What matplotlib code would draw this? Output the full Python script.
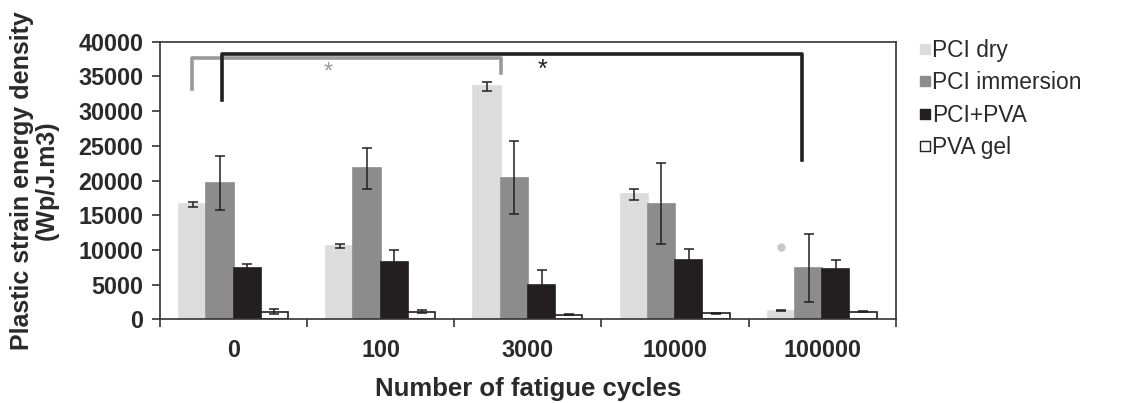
import numpy as np
import matplotlib.pyplot as plt
from matplotlib.lines import Line2D

plt.rcParams['font.family'] = ['Liberation Sans', 'DejaVu Sans']

cycles = ['0', '100', '3000', '10000', '100000']
series = ['PCI dry', 'PCI immersion', 'PCI+PVA', 'PVA gel']
pci_dry = [16600, 10560, 33600, 18050, 1250]
pci_dry_err = [350, 300, 650, 800, 60]
pci_imm = [19650, 21750, 20400, 16650, 7400]
pci_imm_err = [3850, 2900, 5250, 5850, 4850]
pci_pva = [7450, 8250, 4950, 8550, 7200]
pci_pva_err = [600, 1800, 2150, 1550, 1350]
pva_gel = [1150, 1150, 680, 870, 1100]
pva_gel_err = [350, 200, 60, 120, 60]

values = [pci_dry, pci_imm, pci_pva, pva_gel]
errors = [pci_dry_err, pci_imm_err, pci_pva_err, pva_gel_err]
colors = ['#dcdcdc', '#8c8c8c', '#231f20', 'white']
edges = ['#dcdcdc', '#8c8c8c', '#231f20', '#231f20']

# significance brackets (x in category units, y in data units)
gray_bracket_x = [-0.28, -0.28, 1.82, 1.82]
gray_bracket_y = [33200, 37650, 37650, 35500]
black_bracket_x = [-0.08, -0.08, 3.86, 3.86]
black_bracket_y = [31600, 38300, 38300, 23000]
outlier = (3.72, 10450)

fig = plt.figure(figsize=(11.24, 4.03), dpi=100)
ax = fig.add_axes([0.1423, 0.2072, 0.6547, 0.6893])

x = np.arange(len(cycles))
w = 0.185
for i in range(4):
    ax.bar(x + (i - 1.5) * w, values[i], w, color=colors[i], edgecolor=edges[i],
           linewidth=1.2, label=series[i], zorder=2)
    ax.errorbar(x + (i - 1.5) * w, values[i], yerr=errors[i], fmt='none',
                ecolor='#231f20', elinewidth=1.1, capsize=3.5, capthick=1.1, zorder=3)

ax.plot(gray_bracket_x, gray_bracket_y, color='#9a9a9a', lw=2.6, clip_on=False, zorder=4)
ax.plot(black_bracket_x, black_bracket_y, color='#231f20', lw=2.6, clip_on=False, zorder=5)
ax.text(0.64, 35600, '*', color='#9a9a9a', fontsize=17, ha='center', va='center')
ax.text(2.10, 36000, '*', color='#231f20', fontsize=18, ha='center', va='center')
ax.plot(*outlier, 'o', color='#c8c8c8', ms=5, zorder=4)

ax.set_xlim(-0.5, 4.5)
ax.set_ylim(0, 40000)
ax.set_yticks(np.arange(0, 40001, 5000))
ax.set_xticks(x)
ax.set_xticklabels(cycles)
ax.set_xticks(np.arange(-0.5, 5, 1), minor=True)
ax.tick_params(axis='x', which='major', length=0, pad=14)
ax.tick_params(axis='x', which='minor', length=6, width=1.2, color='#333333')
ax.tick_params(axis='y', length=6, width=1.2, color='#333333', pad=6)
for lab in ax.get_xticklabels() + ax.get_yticklabels():
    lab.set_fontsize(16.8)
    lab.set_fontweight('bold')
    lab.set_color('#2a2a2a')
for s in ax.spines.values():
    s.set_linewidth(1.2)
    s.set_color('#333333')

ax.set_xlabel('Number of fatigue cycles', fontsize=18.5, fontweight='bold',
              color='#2a2a2a', labelpad=11)
ax.set_ylabel('Plastic strain energy density\n(Wp/J.m3)', fontsize=18,
              fontweight='bold', color='#2a2a2a', labelpad=14, linespacing=1.05)

handles = [Line2D([], [], ls='none', marker='s', ms=6.5, markerfacecolor=colors[i],
                  markeredgecolor=edges[i], markeredgewidth=1) for i in range(4)]
leg = fig.legend(handles, series, loc='upper left', bbox_to_anchor=(0.810, 0.925),
                 frameon=False, fontsize=16.4, handlelength=0.45,
                 handletextpad=0.1, labelspacing=0.4, borderaxespad=0)
for t in leg.get_texts():
    t.set_color('#2a2a2a')

fig.savefig('out.png', dpi=100)
